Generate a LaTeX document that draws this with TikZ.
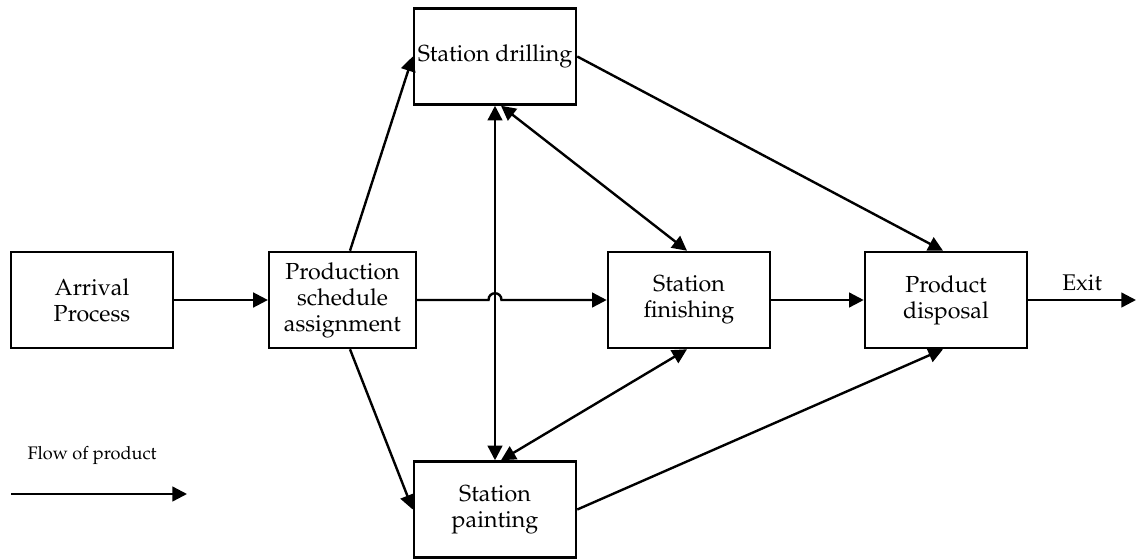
\documentclass[tikz,border=0pt]{standalone}
\usepackage[T1]{fontenc}
\usepackage{mathpazo}
\usetikzlibrary{arrows.meta,calc}
\begin{document}
\begin{tikzpicture}[x=0.75pt,y=-0.75pt,
  box/.style={draw,line width=1.9pt,minimum width=121.5pt,minimum height=72pt,
    align=center,inner sep=0pt,font=\fontsize{17.4}{19.5}\selectfont},
  flow/.style={line width=1.8pt,-{Triangle[length=11pt,width=11pt]}},
  both/.style={line width=1.8pt,{Triangle[length=11pt,width=11pt]}-{Triangle[length=11pt,width=11pt]}}]
\useasboundingbox (0,0) rectangle (1136,558);

% stations
\node[box] (arr) at (92,300) {Arrival\\Process};
\node[box,minimum width=110pt] (prod) at (342.5,300) {Production\\schedule\\assignment};
\node[box] (drill) at (495,56.5) {Station drilling};
\node[box] (fin) at (689,300) {Station\\finishing};
\node[box] (disp) at (946,300) {Product\\disposal};
\node[box] (paint) at (495,509.5) {Station\\painting};
\coordinate (exit) at (1136,300);

% flow of product
\draw[flow] (arr) -- (prod);
\draw[flow] ($(prod.north)+(7.5,0)$) -- (drill.west);
\draw[flow] ($(prod.south)+(7.5,0)$) -- (paint.west);
\draw[both] (drill.south) -- (paint.north);
\draw[flow] (prod.east) -- ($(drill.south |- prod.east)+(-6.5,0)$)
  .. controls +(0,-9) and +(0,-9) .. ($(drill.south |- prod.east)+(6.5,0)$) -- (fin.west);
\draw[both] ($(drill.south)+(6,0)$) -- ($(fin.north)+(-2,0)$);
\draw[both] ($(paint.north)+(6,0)$) -- ($(fin.south)+(-2,0)$);
\draw[flow] (drill.east) -- ($(disp.north)+(-3,0)$);
\draw[flow] (paint.east) -- ($(disp.south)+(-3,0)$);
\draw[flow] (fin) -- (disp);
\draw[flow] (disp.east) -- node[above=3pt,font=\fontsize{17}{19}\selectfont] (exitlbl) {Exit} (exit);

% legend
\node[font=\fontsize{13.6}{16}\selectfont] (legend) at (92,455) {Flow of product};
\coordinate (l1) at (11,494);
\coordinate (l2) at (187,494);
\draw[flow] (l1) -- (l2);
\end{tikzpicture}
\end{document}
